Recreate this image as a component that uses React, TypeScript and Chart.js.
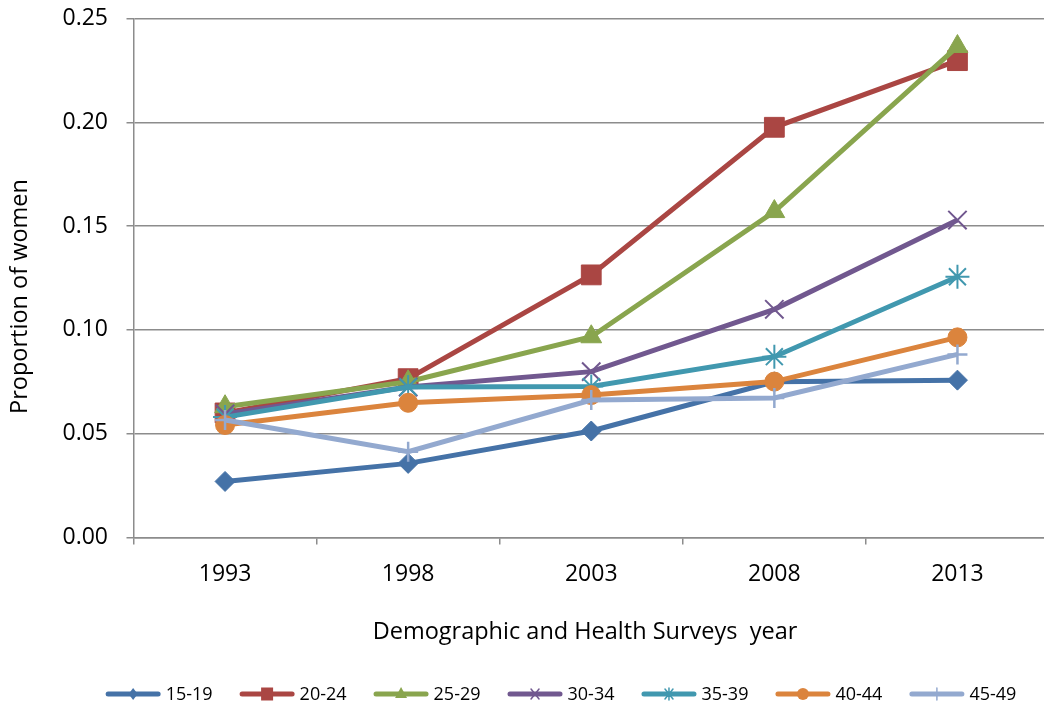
import React, { useEffect, useRef } from "react";
import { Chart, registerables } from "chart.js";

Chart.register(...registerables);

const years = ["1993", "1998", "2003", "2008", "2013"];
const seriesNames = ["15-19", "20-24", "25-29", "30-34", "35-39", "40-44", "45-49"];
const s1519 = [0.027, 0.0357, 0.0513, 0.075, 0.0758];
const s2024 = [0.06, 0.0765, 0.1265, 0.1976, 0.2297];
const s2529 = [0.063, 0.075, 0.0967, 0.157, 0.2365];
const s3034 = [0.0595, 0.0725, 0.0799, 0.1099, 0.1529];
const s3539 = [0.058, 0.0725, 0.0727, 0.0871, 0.1256];
const s4044 = [0.0542, 0.0649, 0.0686, 0.0751, 0.0964];
const s4549 = [0.0566, 0.0413, 0.0662, 0.0672, 0.0882];
const seriesValues = [s1519, s2024, s2529, s3034, s3539, s4044, s4549];
const seriesColors = ["#4572A7", "#AA4643", "#89A54E", "#71588F", "#4198AF", "#DB843D", "#93A9CF"];
const pointStyles = ["rectRot", "rect", "triangle", "crossRot", "star", "circle", "cross"];
const pointRadii = [10, 14, 12, 13, 12, 9.5, 10];
const pointBorders = [1, 1, 1, 2, 2, 1, 2.5];
const yTicks = [0, 0.05, 0.1, 0.15, 0.2, 0.25];
const xTitle = "Demographic and Health Surveys  year";
const yTitle = "Proportion of women";

const FONT = "'Open Sans', 'DejaVu Sans', sans-serif";
const GRID = "#8c8c8c";

function drawMarker(ctx: CanvasRenderingContext2D, style: string, x: number, y: number, color: string) {
  ctx.save();
  ctx.fillStyle = color;
  ctx.strokeStyle = color;
  ctx.lineWidth = 1.5;
  ctx.beginPath();
  if (style === "rectRot") {
    ctx.moveTo(x, y - 6);
    ctx.lineTo(x + 4.5, y);
    ctx.lineTo(x, y + 6);
    ctx.lineTo(x - 4.5, y);
    ctx.closePath();
    ctx.fill();
  } else if (style === "rect") {
    ctx.rect(x - 6, y - 6.5, 12, 13);
    ctx.fill();
  } else if (style === "triangle") {
    ctx.moveTo(x, y - 7);
    ctx.lineTo(x + 6, y + 4);
    ctx.lineTo(x - 6, y + 4);
    ctx.closePath();
    ctx.fill();
  } else if (style === "crossRot") {
    ctx.moveTo(x - 4, y - 5);
    ctx.lineTo(x + 4, y + 5);
    ctx.moveTo(x + 4, y - 5);
    ctx.lineTo(x - 4, y + 5);
    ctx.stroke();
  } else if (style === "star") {
    ctx.moveTo(x - 4, y - 5);
    ctx.lineTo(x + 4, y + 5);
    ctx.moveTo(x + 4, y - 5);
    ctx.lineTo(x - 4, y + 5);
    ctx.moveTo(x, y - 6);
    ctx.lineTo(x, y + 6);
    ctx.stroke();
  } else if (style === "circle") {
    ctx.arc(x, y, 6, 0, Math.PI * 2);
    ctx.fill();
  } else if (style === "cross") {
    ctx.moveTo(x, y - 6);
    ctx.lineTo(x, y + 6);
    ctx.stroke();
  }
  ctx.restore();
}

const excelDecor = {
  id: "excelDecor",
  afterDraw(chart: any) {
    const ctx: CanvasRenderingContext2D = chart.ctx;
    ctx.save();
    // axis titles
    ctx.fillStyle = "#000";
    ctx.font = `23.5px ${FONT}`;
    ctx.textAlign = "center";
    ctx.textBaseline = "middle";
    ctx.fillText(xTitle, 585, 632);
    ctx.save();
    ctx.translate(20, 296.5);
    ctx.rotate(-Math.PI / 2);
    ctx.fillText(yTitle, 0, 0);
    ctx.restore();

    // legend
    ctx.font = `18px ${FONT}`;
    ctx.textBaseline = "middle";
    ctx.textAlign = "left";
    const lineLen = 55;
    const gap = 5;
    const spacing = 27;
    const widths = seriesNames.map((n) => lineLen + gap + ctx.measureText(n).width);
    const total = widths.reduce((a, b) => a + b, 0) + spacing * (widths.length - 1);
    let x = 561 - total / 2;
    const y = 694;
    seriesNames.forEach((name, i) => {
      ctx.strokeStyle = seriesColors[i];
      ctx.lineWidth = 5;
      ctx.lineCap = "round";
      ctx.beginPath();
      ctx.moveTo(x + 2.5, y);
      ctx.lineTo(x + lineLen - 2.5, y);
      ctx.stroke();
      drawMarker(ctx, pointStyles[i], x + lineLen / 2, y, seriesColors[i]);
      ctx.fillStyle = "#000";
      ctx.fillText(name, x + lineLen + gap, y + 1);
      x += widths[i] + spacing;
    });
    ctx.restore();
  },
};

export default function App() {
  const ref = useRef<HTMLCanvasElement | null>(null);
  useEffect(() => {
    if (!ref.current) return;
    const chart = new Chart(ref.current, {
      type: "line",
      data: {
        labels: years,
        datasets: seriesNames.map((name, i) => ({
          label: name,
          data: seriesValues[i],
          borderColor: seriesColors[i],
          backgroundColor: seriesColors[i],
          borderWidth: 5,
          pointStyle: pointStyles[i] as any,
          pointRadius: pointRadii[i],
          pointBorderWidth: pointBorders[i],
          pointBackgroundColor: seriesColors[i],
          pointBorderColor: seriesColors[i],
          tension: 0,
          fill: false,
          order: -i,
        })),
      },
      options: {
        animation: false,
        responsive: false,
        events: [],
        layout: { padding: { top: 18.5, right: 73, bottom: 110.5, left: 0 } },
        plugins: {
          legend: { display: false },
          tooltip: { enabled: false },
        },
        scales: {
          x: {
            type: "category",
            offset: true,
            afterFit: (scale: any) => {
              scale.paddingLeft = 0;
              scale.paddingRight = 0;
              scale.height = 60;
            },
            grid: {
              offset: true,
              drawOnChartArea: false,
              drawTicks: true,
              tickLength: 7,
              color: GRID,
              lineWidth: 1.5,
            },
            border: { display: true, color: GRID, width: 1.5 },
            ticks: { color: "#000", font: { family: FONT, size: 23 }, padding: 16 },
          },
          y: {
            min: 0,
            max: 0.25,
            afterBuildTicks: (scale: any) => {
              scale.ticks = yTicks.map((v) => ({ value: v }));
            },
            afterFit: (scale: any) => {
              scale.paddingTop = 0;
              scale.paddingBottom = 0;
              scale.width = 133.5;
            },
            grid: { color: GRID, lineWidth: 1.5, drawTicks: true, tickLength: 7 },
            border: { display: true, color: GRID, width: 1.5 },
            ticks: {
              color: "#000",
              font: { family: FONT, size: 23 },
              padding: 18.5,
              callback: (v: any) => Number(v).toFixed(2),
            },
          },
        },
      },
      plugins: [excelDecor],
    });
    return () => chart.destroy();
  }, []);
  return (
    <div style={{ position: "fixed", left: 0, top: 0, width: 1044, height: 708, overflow: "hidden", background: "#fff" }}>
      <canvas ref={ref} width={1122} height={708} style={{ display: "block" }} />
    </div>
  );
}
